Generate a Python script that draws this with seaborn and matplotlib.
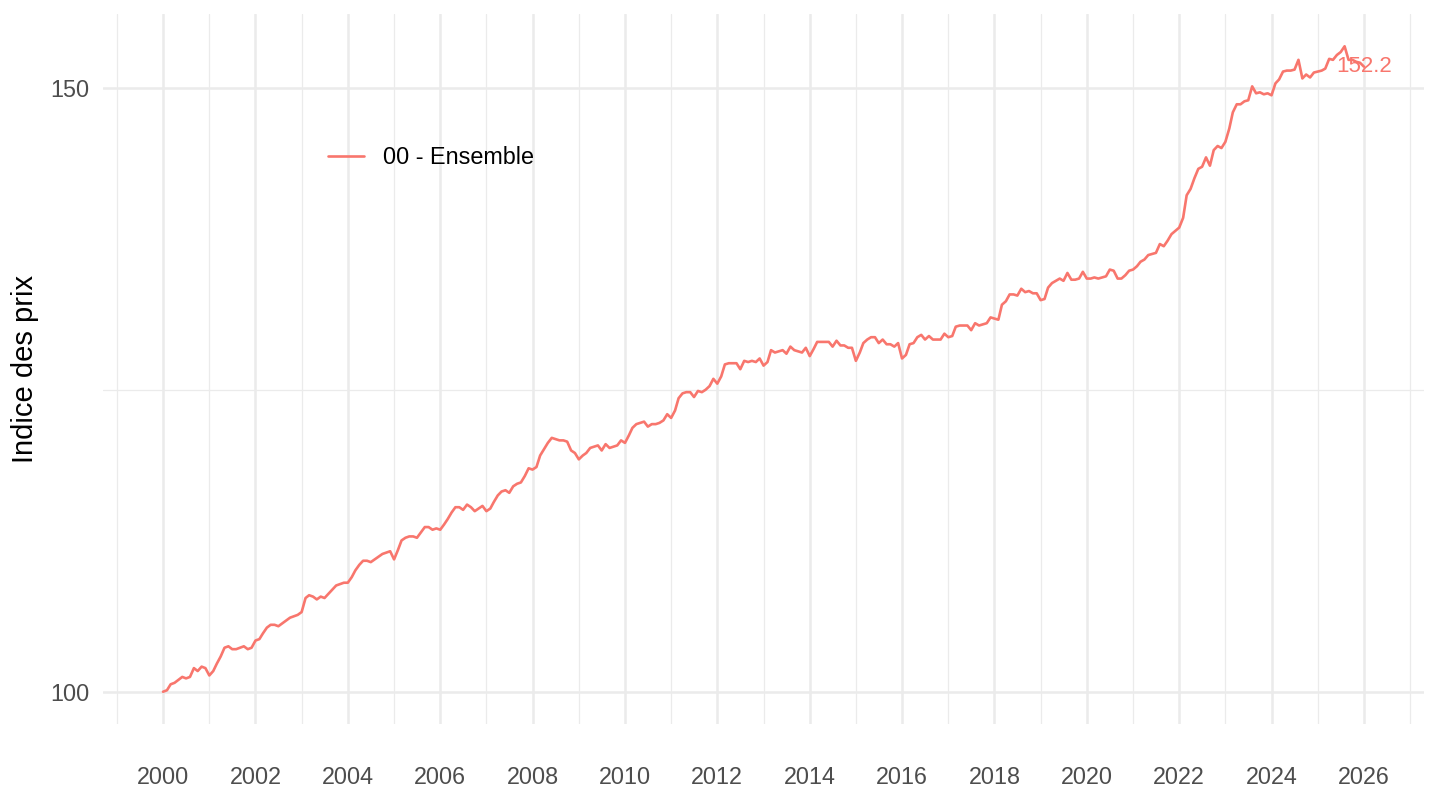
import matplotlib
matplotlib.use("Agg")
import matplotlib.pyplot as plt
import matplotlib.dates as mdates
from matplotlib.ticker import FixedLocator, FuncFormatter, NullFormatter
import numpy as np
import pandas as pd
import seaborn as sns

# Indice des prix, base 100 en janvier 2000, mensuel
start = "2000-01-01"
series_name = "00 - Ensemble"
y2000 = [100.0, 100.1, 100.5, 100.6, 100.8, 101.0, 100.9, 101.0, 101.6, 101.4, 101.7, 101.6]
y2001 = [101.1, 101.4, 101.9, 102.4, 103.0, 103.1, 102.9, 102.9, 103.0, 103.1, 102.9, 103.0]
y2002 = [103.5, 103.6, 104.0, 104.4, 104.6, 104.6, 104.5, 104.7, 104.9, 105.1, 105.2, 105.3]
y2003 = [105.5, 106.5, 106.7, 106.6, 106.4, 106.6, 106.5, 106.8, 107.1, 107.4, 107.5, 107.6]
y2004 = [107.6, 108.0, 108.5, 108.9, 109.2, 109.2, 109.1, 109.3, 109.5, 109.7, 109.8, 109.9]
y2005 = [109.3, 110.0, 110.7, 110.9, 111.0, 111.0, 110.9, 111.3, 111.7, 111.7, 111.5, 111.6]
y2006 = [111.5, 111.9, 112.3, 112.8, 113.2, 113.2, 113.0, 113.4, 113.2, 112.9, 113.1, 113.3]
y2007 = [112.9, 113.1, 113.6, 114.1, 114.4, 114.5, 114.3, 114.8, 115.0, 115.1, 115.6, 116.2]
y2008 = [116.1, 116.3, 117.2, 117.7, 118.2, 118.6, 118.5, 118.4, 118.4, 118.3, 117.6, 117.4]
y2009 = [116.9, 117.2, 117.4, 117.8, 117.9, 118.0, 117.6, 118.1, 117.8, 117.9, 118.0, 118.4]
y2010 = [118.2, 118.8, 119.4, 119.7, 119.8, 119.9, 119.5, 119.7, 119.7, 119.8, 120.0, 120.5]
y2011 = [120.2, 120.8, 121.8, 122.2, 122.3, 122.3, 121.9, 122.4, 122.3, 122.5, 122.8, 123.4]
y2012 = [123.0, 123.6, 124.6, 124.7, 124.7, 124.7, 124.2, 124.9, 124.8, 124.9, 124.8, 125.1]
y2013 = [124.5, 124.8, 125.8, 125.6, 125.7, 125.8, 125.5, 126.1, 125.8, 125.7, 125.6, 126.0]
y2014 = [125.3, 125.9, 126.5, 126.5, 126.5, 126.5, 126.1, 126.6, 126.2, 126.2, 126.0, 126.0]
y2015 = [124.9, 125.6, 126.4, 126.7, 126.9, 126.9, 126.4, 126.7, 126.3, 126.3, 126.1, 126.4]
y2016 = [125.1, 125.4, 126.3, 126.4, 126.9, 127.1, 126.7, 127.0, 126.7, 126.7, 126.7, 127.2]
y2017 = [126.9, 127.0, 127.8, 127.9, 127.9, 127.9, 127.5, 128.1, 127.9, 128.0, 128.1, 128.6]
y2018 = [128.5, 128.4, 129.7, 130.0, 130.6, 130.6, 130.5, 131.1, 130.8, 130.9, 130.7, 130.7]
y2019 = [130.1, 130.2, 131.2, 131.6, 131.8, 132.0, 131.8, 132.5, 131.9, 131.9, 132.0, 132.6]
y2020 = [132.0, 132.0, 132.1, 132.0, 132.1, 132.2, 132.8, 132.7, 132.0, 132.0, 132.3, 132.7]
y2021 = [132.8, 133.1, 133.5, 133.7, 134.1, 134.2, 134.3, 135.1, 134.9, 135.4, 136.0, 136.3]
y2022 = [136.6, 137.5, 139.6, 140.2, 141.2, 142.1, 142.3, 143.2, 142.4, 143.9, 144.3, 144.1]
y2023 = [144.7, 146.0, 147.6, 148.4, 148.4, 148.7, 148.8, 150.2, 149.5, 149.6, 149.4, 149.5]
y2024 = [149.3, 150.5, 150.9, 151.7, 151.8, 151.8, 151.9, 152.9, 151.0, 151.4, 151.1, 151.6]
y2025 = [151.7, 151.8, 152.0, 153.0, 152.9, 153.4, 153.7, 154.3, 152.9, 152.9, 152.7, 152.6]
y2026 = [152.2]

y_breaks = [100, 150]

values = (y2000 + y2001 + y2002 + y2003 + y2004 + y2005 + y2006 + y2007 + y2008
          + y2009 + y2010 + y2011 + y2012 + y2013 + y2014 + y2015 + y2016 + y2017
          + y2018 + y2019 + y2020 + y2021 + y2022 + y2023 + y2024 + y2025 + y2026)
dates = pd.date_range(start, periods=len(values), freq="MS")
df = pd.DataFrame({"date": dates, "indice": values, "serie": series_name})

line_col = "#F8766D"
grid_col = "#EBEBEB"

sns.set_style("white")
plt.rcParams["font.family"] = ["Liberation Sans", "DejaVu Sans"]

fig, ax = plt.subplots(figsize=(14.4, 8.1), dpi=100)
fig.subplots_adjust(left=103 / 1440, right=1424 / 1440, bottom=86 / 810, top=796 / 810)

sns.lineplot(data=df, x="date", y="indice", hue="serie", palette=[line_col],
             linewidth=1.9, legend=False, ax=ax)
ax.set_yscale("log")

# ggplot-like 5% expansion (log space for y)
xnum = mdates.date2num(dates)
xspan = xnum[-1] - xnum[0]
ax.set_xlim(xnum[0] - 0.05 * xspan, xnum[-1] + 0.05 * xspan)
lv = np.log(values)
lspan = lv.max() - lv.min()
ax.set_ylim(np.exp(lv.min() - 0.05 * lspan), np.exp(lv.max() + 0.05 * lspan))

ax.yaxis.set_major_locator(FixedLocator(y_breaks))
ax.yaxis.set_major_formatter(FuncFormatter(lambda v, p: f"{v:g}"))
ax.yaxis.set_minor_locator(FixedLocator([np.sqrt(y_breaks[0] * y_breaks[1])]))
ax.yaxis.set_minor_formatter(NullFormatter())
ax.xaxis.set_major_locator(mdates.YearLocator(2))
ax.xaxis.set_minor_locator(mdates.YearLocator(1))
ax.xaxis.set_major_formatter(mdates.DateFormatter("%Y"))

ax.grid(which="major", color=grid_col, linewidth=1.8)
ax.grid(which="minor", color=grid_col, linewidth=0.9)
ax.set_axisbelow(True)
for s in ax.spines.values():
    s.set_visible(False)

ax.tick_params(which="both", length=0, labelsize=16.8, labelcolor="#4D4D4D")
ax.tick_params(axis="x", pad=30)
ax.tick_params(axis="y", pad=10)

ax.set_xlabel("")
ax.set_ylabel("Indice des prix", fontsize=21, color="black", labelpad=8)

leg = ax.legend([ax.lines[0]], [series_name], loc="center left",
                bbox_to_anchor=(328 / 1440, 1 - 158 / 810), bbox_transform=fig.transFigure,
                frameon=False, fontsize=16.8, handlelength=1.55, handletextpad=0.8,
                borderpad=0, borderaxespad=0)
for t in leg.get_texts():
    t.set_color("black")

ax.text(dates[-1], values[-1], f"{values[-1]:.1f}", color=line_col,
        ha="center", va="center", fontsize=16)

fig.savefig("out.png", dpi=100)
